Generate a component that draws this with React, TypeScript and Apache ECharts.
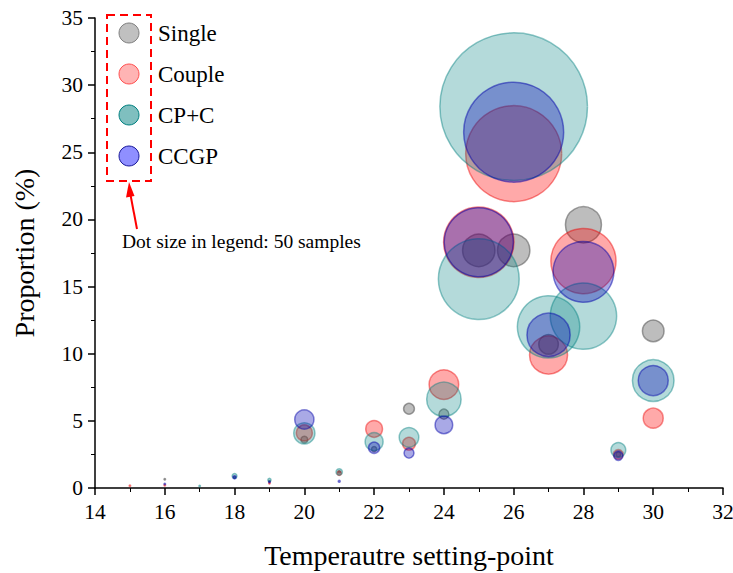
import React, { useEffect, useRef } from "react";
import * as echarts from "echarts";

// Temperature setting-points (x), proportions in % (y), samples (bubble size)
const singleX = [16, 18, 19, 20, 21, 22, 23, 24, 25, 26, 27, 28, 29, 30];
const singleY = [0.65, 0.8, 0.5, 3.6, 1.2, 2.9, 5.9, 5.5, 17.7, 17.7, 10.7, 19.6, 2.5, 11.7];
const singleN = [3, 4, 2, 17, 6, 13, 27, 25, 81, 81, 49, 90, 12, 54];

const coupleX = [15, 16, 19, 20, 21, 22, 23, 24, 25, 26, 27, 28, 29, 30];
const coupleY = [0.17, 0.2, 0.35, 4.1, 1.1, 4.4, 3.3, 7.7, 18.3, 24.9, 9.9, 16.9, 2.5, 5.2];
const coupleN = [2, 2, 3, 40, 11, 42, 32, 74, 176, 240, 95, 163, 24, 50];

const cpcX = [17, 18, 19, 20, 21, 22, 23, 24, 25, 26, 27, 28, 29, 30];
const cpcY = [0.15, 0.9, 0.6, 4.07, 1.2, 3.45, 3.77, 6.6, 15.56, 28.4, 12.0, 12.8, 2.83, 8.0];
const cpcN = [2, 12, 8, 53, 16, 45, 49, 86, 202, 369, 156, 166, 37, 104];

const ccgpX = [16, 18, 19, 20, 21, 22, 23, 24, 25, 26, 27, 28, 29, 30];
const ccgpY = [0.3, 0.8, 0.45, 5.1, 0.5, 3.0, 2.6, 4.7, 18.3, 26.5, 11.4, 16.1, 2.4, 8.0];
const ccgpN = [3, 8, 4, 48, 5, 28, 25, 44, 173, 250, 108, 152, 23, 75];

const seriesNames = ["Single", "Couple", "CP+C", "CCGP"];
const xTicks = { min: 14, max: 32, interval: 2 };
const yTicks = { min: 0, max: 35, interval: 5 };
const legendNote = "Dot size in legend: 50 samples";

const FONT = "'Liberation Serif', 'Times New Roman', serif";

function zip(xs: number[], ys: number[], ns: number[]) {
  return xs.map((x, i) => [x, ys[i], ns[i]]);
}

export default function App() {
  const ref = useRef<HTMLDivElement>(null);
  useEffect(() => {
    if (!ref.current) return;
    const chart = echarts.init(ref.current, null, { renderer: "svg" });
    const styles = [
      { color: "rgba(128,128,128,0.65)", borderColor: "rgba(95,95,95,0.75)" },
      { color: "rgba(255,0,0,0.42)", borderColor: "rgba(235,0,0,0.55)" },
      { color: "rgba(0,128,128,0.37)", borderColor: "rgba(0,128,128,0.55)" },
      { color: "rgba(0,0,180,0.42)", borderColor: "rgba(0,0,170,0.6)" },
    ];
    const datas = [
      zip(singleX, singleY, singleN),
      zip(coupleX, coupleY, coupleN),
      zip(cpcX, cpcY, cpcN),
      zip(ccgpX, ccgpY, ccgpN),
    ];
    const legendFill = ["#c0c0c0", "#ffb4b4", "#7fbfbf", "#8f8fff"];
    const legendStroke = ["#808080", "#ff5050", "#008080", "#1a1a9a"];
    const legendY = [33, 74, 115, 156];
    const graphic: any[] = [
      {
        type: "rect",
        shape: { x: 107, y: 15, width: 44, height: 166 },
        style: { fill: "none", stroke: "#ff0000", lineWidth: 2, lineDash: [8, 5] },
        z: 10,
      },
      {
        type: "line",
        shape: { x1: 137, y1: 229, x2: 130.5, y2: 195 },
        style: { stroke: "#ff0000", lineWidth: 2 },
        z: 10,
      },
      {
        type: "polygon",
        shape: { points: [[129, 182], [134.5, 196], [126, 197.5]] },
        style: { fill: "#ff0000" },
        z: 10,
      },
      {
        type: "text",
        x: 122,
        y: 241,
        style: { text: legendNote, font: `19.5px ${FONT}`, fill: "#000", verticalAlign: "middle" },
        z: 10,
      },
    ];
    seriesNames.forEach((n, i) => {
      graphic.push({
        type: "circle",
        shape: { cx: 129, cy: legendY[i], r: 10 },
        style: { fill: legendFill[i], stroke: legendStroke[i], lineWidth: 1 },
        z: 10,
      });
      graphic.push({
        type: "text",
        x: 158,
        y: legendY[i],
        style: { text: n, font: `23px ${FONT}`, fill: "#000", verticalAlign: "middle" },
        z: 10,
      });
    });

    chart.setOption({
      animation: false,
      backgroundColor: "#fff",
      grid: { left: 95, right: 10, top: 18, bottom: 85, outerBoundsMode: "none", containLabel: false },
      xAxis: {
        type: "value",
        min: xTicks.min,
        max: xTicks.max,
        interval: xTicks.interval,
        name: "Temperautre setting-point",
        nameLocation: "middle",
        nameGap: 53,
        nameTextStyle: { fontFamily: FONT, fontSize: 28, color: "#000" },
        axisLine: { onZero: false, lineStyle: { color: "#000", width: 1.5 } },
        axisTick: { length: 7, lineStyle: { color: "#000", width: 1.5 } },
        minorTick: { show: true, splitNumber: 2, length: 4, lineStyle: { color: "#000", width: 1 } },
        splitLine: { show: false },
        axisLabel: { fontFamily: FONT, fontSize: 21.5, color: "#000", margin: 13 },
      },
      yAxis: {
        type: "value",
        min: yTicks.min,
        max: yTicks.max,
        interval: yTicks.interval,
        name: "Proportion (%)",
        nameLocation: "middle",
        nameGap: 57,
        nameTextStyle: { fontFamily: FONT, fontSize: 28, color: "#000" },
        axisLine: { show: true, lineStyle: { color: "#000", width: 1.5 } },
        axisTick: { show: true, length: 7, lineStyle: { color: "#000", width: 1.5 } },
        minorTick: { show: true, splitNumber: 2, length: 4, lineStyle: { color: "#000", width: 1 } },
        splitLine: { show: false },
        axisLabel: { fontFamily: FONT, fontSize: 21.5, color: "#000", margin: 12 },
      },
      graphic,
      series: seriesNames.map((name, i) => ({
        name,
        type: "scatter",
        data: datas[i],
        symbolSize: (v: number[]) => Math.max(1.5, v[2] * 0.4),
        itemStyle: { color: styles[i].color, borderColor: styles[i].borderColor, borderWidth: 1.5 },
        emphasis: { disabled: true },
      })),
    });
    return () => chart.dispose();
  }, []);
  return (
    <div
      ref={ref}
      style={{ position: "fixed", left: 0, top: 0, width: 733, height: 573, background: "#fff" }}
    />
  );
}
